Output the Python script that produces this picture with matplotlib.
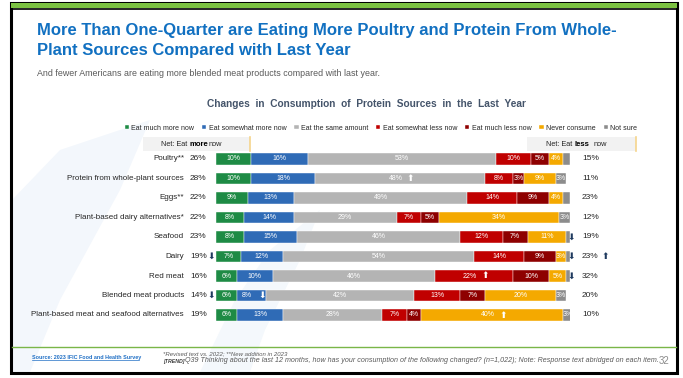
import matplotlib
matplotlib.use("Agg")
import matplotlib.pyplot as plt
from matplotlib.patches import Rectangle, Polygon

plt.rcParams['font.family'] = ['Liberation Sans', 'DejaVu Sans']

W, H = 683, 378

items = ["Poultry**", "Protein from whole-plant sources", "Eggs**",
         "Plant-based dairy alternatives*", "Seafood", "Dairy", "Red meat",
         "Blended meat products", "Plant-based meat and seafood alternatives"]

responses = ["Eat much more now", "Eat somewhat more now", "Eat the same amount",
             "Eat somewhat less now", "Eat much less now", "Never consume", "Not sure"]
colors = ["#1e8b45", "#2f6bb6", "#b4b4b4", "#c00000", "#8e0000", "#f4a900", "#8c8c8c"]

much_more = [10, 10, 9, 8, 8, 7, 6, 6, 6]
somewhat_more = [16, 18, 13, 14, 15, 12, 10, 8, 13]
same = [53, 48, 49, 29, 46, 54, 46, 42, 28]
somewhat_less = [10, 8, 14, 7, 12, 14, 22, 13, 7]
much_less = [5, 3, 9, 5, 7, 9, 10, 7, 4]
never = [4, 9, 4, 34, 11, 3, 5, 20, 40]
not_sure = [2, 3, 2, 3, 1, 1, 1, 3, 3]

net_more = [26, 28, 22, 22, 23, 19, 16, 14, 19]
net_less = [15, 11, 23, 12, 19, 23, 32, 20, 10]

# significant changes: (row, segment) -> arrow
seg_arrows = {(1, 2): "up", (6, 3): "up", (7, 1): "down", (8, 5): "up",
              (4, 6): "down", (5, 6): "down", (6, 6): "down"}
more_arrows = {5: "down", 7: "down"}
less_arrows = {5: "up"}

series = [much_more, somewhat_more, same, somewhat_less, much_less, never, not_sure]
glyph = {"up": "\u2b06", "down": "\u2b07"}
navy = "#1f3a5f"


def fx(x):
    return x / W


def fy(y):
    return 1 - y / H


fig = plt.figure(figsize=(W / 100, H / 100), dpi=100)
fig.patch.set_facecolor("white")

# faint background swoosh
bg = fig.add_axes([0, 0, 1, 1])
bg.set_xlim(0, W)
bg.set_ylim(H, 0)
bg.axis("off")
bg.add_patch(Polygon([(12, 200), (60, 150), (150, 120), (120, 190), (60, 300), (30, 372), (12, 372)],
                     closed=True, color="#f3f7fc", lw=0, zorder=0))
bg.add_patch(Polygon([(200, 372), (235, 300), (270, 250), (320, 210), (300, 260), (265, 330), (250, 372)],
                     closed=True, color="#f4f8fc", lw=0, zorder=0))

# slide frame
bg.add_patch(Rectangle((11, 3), 666, 370, fill=False, ec="black", lw=2.2, zorder=5))
bg.add_patch(Rectangle((11, 3), 666, 5, color="#7cc242", lw=0, zorder=6))
bg.plot([12, 676], [9, 9], color="black", lw=1.2, zorder=6)
bg.plot([12, 676], [347, 347], color="#7ab648", lw=1.0, zorder=6)

# headline
fig.text(fx(37), fy(31), "More Than One-Quarter are Eating More Poultry and Protein From Whole-",
         fontsize=12.0, fontweight="bold", color="#1170c1", va="center")
fig.text(fx(37), fy(51), "Plant Sources Compared with Last Year",
         fontsize=12.0, fontweight="bold", color="#1170c1", va="center")
fig.text(fx(37), fy(73), "And fewer Americans are eating more blended meat products compared with last year.",
         fontsize=6.4, color="#595959", va="center")

fig.text(fx(366), fy(104), "Changes  in  Consumption  of  Protein  Sources  in  the  Last  Year",
         fontsize=7.3, fontweight="bold", color="#44546a", ha="center", va="center")

# net boxes
for x0, x1, word in [(143, 250, "more"), (527, 636, "less")]:
    bg.add_patch(Rectangle((x0, 137), x1 - x0, 14, facecolor="#f2f2f2", edgecolor="none", zorder=2))
    bg.plot([x1, x1], [137, 151], color="#f5d48c", lw=1.2, zorder=3)
    cx = (x0 + x1) / 2
    bg.text(cx - 9, 144, "Net: Eat", fontsize=5.3, color="#262626", ha="right", va="center", zorder=4)
    bg.text(cx - 7, 144, word, fontsize=5.6, fontweight="black", color="black",
            ha="left", va="center", zorder=4)
    bg.text(cx + 12, 144, "now", fontsize=5.3, color="#262626", ha="left", va="center", zorder=4)

# bars
ax = fig.add_axes([fx(216), fy(324.75), 354 / W, 175.5 / H])
ax.set_xlim(0, 100)
ax.set_ylim(len(items) - 0.5, -0.5)
ax.axis("off")
ax.patch.set_alpha(0)

rows = range(len(items))
left = [0] * len(items)
handles = []
for s, (vals, col, name) in enumerate(zip(series, colors, responses)):
    bars = ax.barh(rows, vals, left=left, height=0.58, color=col,
                   edgecolor="white", linewidth=0.3, label=name)
    handles.append(bars)
    for i, v in enumerate(vals):
        cx = left[i] + v / 2
        arrow = seg_arrows.get((i, s))
        if s == 6:
            if arrow:
                ax.text(left[i] + v + 0.2, i, glyph[arrow], fontsize=6.5, color=navy,
                        ha="center", va="center", family="DejaVu Sans")
            elif v >= 3:
                ax.text(cx, i, f"{v}%", fontsize=5, color="white", ha="center", va="center")
            continue
        if v >= 3:
            if arrow:
                ax.text(cx - 1.2, i, f"{v}%", fontsize=5, color="white", ha="center", va="center")
                ax.text(cx + 3.0, i, glyph[arrow], fontsize=6.5, color="white",
                        ha="center", va="center", family="DejaVu Sans")
            else:
                ax.text(cx, i, f"{v}%", fontsize=5, color="white", ha="center", va="center")
    left = [l + v for l, v in zip(left, vals)]

# row labels and nets
lab = fig.add_axes([0, fy(324.75), 1, 175.5 / H])
lab.set_xlim(0, W)
lab.set_ylim(len(items) - 0.5, -0.5)
lab.axis("off")
lab.patch.set_alpha(0)
for i, name in enumerate(items):
    lab.text(184, i, name, fontsize=5.75, color="#262626", ha="right", va="center")
    lab.text(190, i, f"{net_more[i]}%", fontsize=6, color="#262626", ha="left", va="center")
    if i in more_arrows:
        lab.text(211, i, glyph[more_arrows[i]], fontsize=6.5, color=navy,
                 ha="center", va="center", family="DejaVu Sans")
    lab.text(582, i, f"{net_less[i]}%", fontsize=6, color="#262626", ha="left", va="center")
    if i in less_arrows:
        lab.text(605, i, glyph[less_arrows[i]], fontsize=6.5, color=navy,
                 ha="center", va="center", family="DejaVu Sans")

fig.legend(handles=handles, loc="center", bbox_to_anchor=(fx(381), fy(128)), ncol=7,
           frameon=False, fontsize=5.0, handlelength=0.6, handleheight=0.6,
           handletextpad=0.35, columnspacing=1.15, labelcolor="#262626")

# footer
fig.text(fx(32), fy(357), "Source: 2023 IFIC Food and Health Survey", fontsize=3.9,
         fontweight="bold", color="#1f6fc5", va="center")
bg.plot([32, 139], [360, 360], color="#1f6fc5", lw=0.5)
fig.text(fx(163), fy(354), "*Revised text vs. 2022; **New addition in 2023", fontsize=4.3,
         style="italic", color="#595959", va="center")
fig.text(fx(163), fy(361), "[TREND]", fontsize=3.8, style="italic", fontweight="bold",
         color="#404040", va="center")
fig.text(fx(185), fy(361), "Q39 Thinking about the last 12 months, how has your consumption of the following "
         "changed? (n=1,022); Note: Response text abridged on each item.", fontsize=5.12,
         style="italic", color="#595959", va="center")
fig.text(fx(664), fy(361), "32", fontsize=7, color="#8c8c8c", ha="center", va="center")

fig.savefig("out.png", dpi=100)
